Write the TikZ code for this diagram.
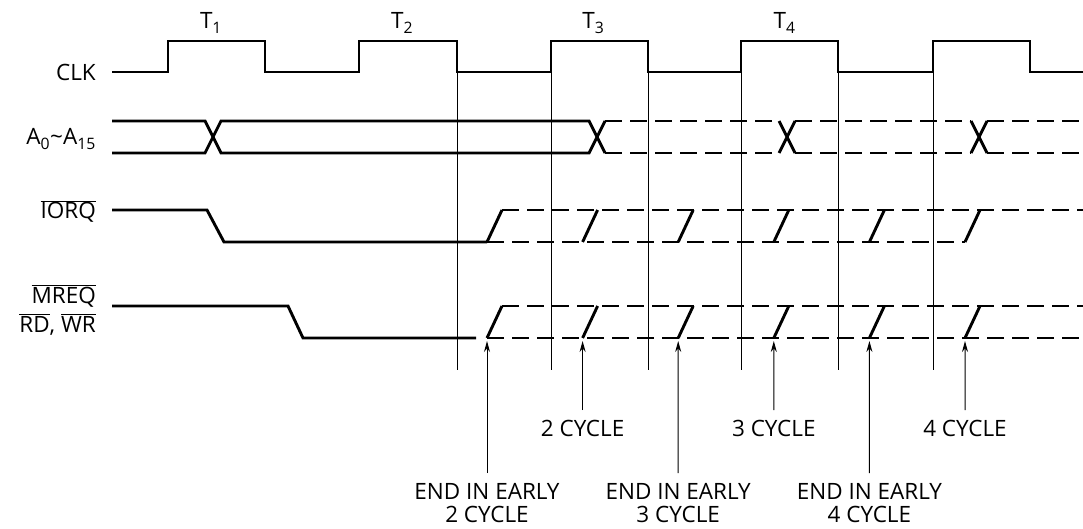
\documentclass[tikz,border=0pt]{standalone}
\usepackage{fontspec}
\setmainfont{Open Sans}
\usetikzlibrary{arrows.meta}
\newcommand{\nbar}[1]{$\overline{\mbox{#1}}$}

\begin{document}
\begin{tikzpicture}[
		x=1pt, y=-1pt,
		wave/.style={line width=2.9pt},
		later/.style={wave, dash pattern=on 17pt off 8pt},
		guide/.style={line width=1pt},
		pointer/.style={line width=1pt, -{Stealth[length=11pt,width=6pt]}},
		signame/.style={anchor=base east, inner sep=0pt, font=\fontsize{22.5}{26}\selectfont},
		tlabel/.style={inner sep=0pt, font=\fontsize{22.5}{26}\selectfont},
		cyclabel/.style={anchor=north, align=center, inner sep=0pt, outer ysep=10pt,
			font=\fontsize{22.5}{23}\selectfont}
	]
	\useasboundingbox (0,0) rectangle (1083,529);
	
	% signal names
	\node[signame] (clk) at (96,81) {CLK};
	\node[signame] (addr) at (96,145) {A\textsubscript{0}\textasciitilde A\textsubscript{15}};
	\node[signame] (iorq) at (96,219) {\nbar{IORQ}};
	\node[signame] (mreq) at (96,303) {\nbar{MREQ}};
	\node[signame] (rdwr) at (96,332) {\nbar{RD}, \nbar{WR}};
	
	% T states
	\foreach \k in {1,...,4}
		\node[tlabel] (t\k) at ({211+191.2*(\k-1)},23) {T\textsubscript{\k}};
	
	% guides
	\foreach \x in {457,551,648,741,838,933}
		\draw[guide] (\x,72) -- (\x,370);
	
	% clock
	\draw[wave] (112,72) -- (168,72) |- (265,41) |- (359,72) |- (457,41) |- (551,72)
		|- (648,41) |- (741,72) |- (838,41) |- (933,72) |- (1030,41) |- (1083,72);
	
	% address bus
	\draw[wave] (112,121) -- (205,121) -- (221,153) -- (589,153) -- (605,121);
	\draw[wave] (112,153) -- (205,153) -- (221,121) -- (589,121) -- (605,153);
	\foreach \y in {121,153} {
		\draw[later] (605,\y) -- (779,\y);
		\draw[later] (795,\y) -- (971,\y);
		\draw[later] (987,\y) -- (1083,\y);
	}
	\foreach \c in {787,979}
		\draw[wave] (\c-8,121) -- (\c+8,153) (\c-8,153) -- (\c+8,121);
	
	% IORQ
	\draw[wave] (112,210) -- (207,210) -- (224,242) -- (487,242);
	\draw[later] (502,210) -- (1083,210);
	\draw[later] (487,242) -- (965,242);
	
	% MREQ, RD, WR
	\draw[wave] (112,306) -- (288,306) -- (303,338) -- (476,338);
	\draw[later] (502,306) -- (1083,306);
	\draw[later] (487,338) -- (1083,338);
	
	\foreach \k in {0,...,5} {
		\draw[wave] ({487+95.6*\k},242) -- ++(15,-32);
		\draw[wave] ({487+95.6*\k},338) -- ++(15,-32);
		\coordinate (tip\k) at ({487+95.6*\k},341);
	}
	
	% cycle notes
	\node[cyclabel] (early2) at (487,473) {END IN EARLY\\2 CYCLE};
	\node[cyclabel] (cyc2) at (582.6,410) {2 CYCLE};
	\node[cyclabel] (early3) at (678.2,473) {END IN EARLY\\3 CYCLE};
	\node[cyclabel] (cyc3) at (773.8,410) {3 CYCLE};
	\node[cyclabel] (early4) at (869.4,473) {END IN EARLY\\4 CYCLE};
	\node[cyclabel] (cyc4) at (965,410) {4 CYCLE};
	
	\draw[pointer] (early2.north) -- (tip0);
	\draw[pointer] (cyc2.north) -- (tip1);
	\draw[pointer] (early3.north) -- (tip2);
	\draw[pointer] (cyc3.north) -- (tip3);
	\draw[pointer] (early4.north) -- (tip4);
	\draw[pointer] (cyc4.north) -- (tip5);
	
\end{tikzpicture}
\end{document}
